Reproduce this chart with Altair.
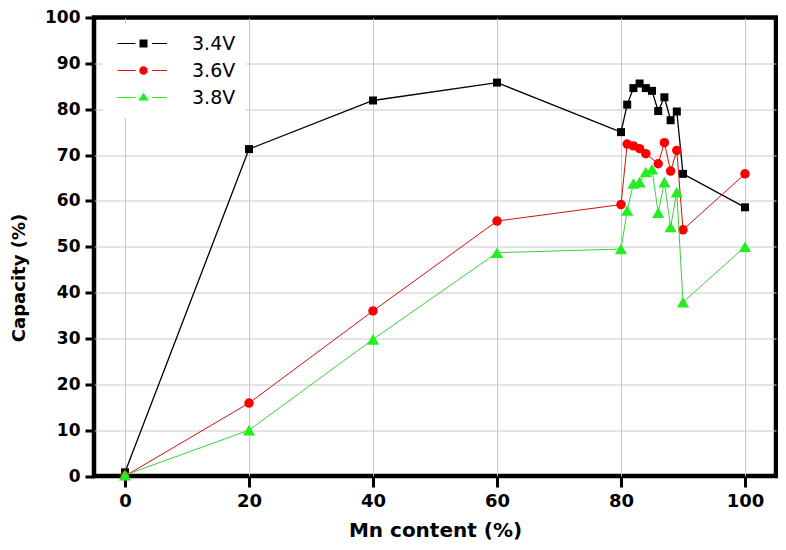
import altair as alt
import pandas as pd

# ---- data ----
series_names = ["3.4V", "3.6V", "3.8V"]

x_34 = [0, 20, 40, 60, 80, 81, 82, 83, 84, 85, 86, 87, 88, 89, 90, 100]
y_34 = [0.8, 71.3, 81.9, 85.8, 75.0, 81.0, 84.6, 85.6, 84.6, 84.0, 79.6, 82.6, 77.6, 79.5, 65.9, 58.6]

x_36 = [0, 20, 40, 60, 80, 81, 82, 83, 84, 86, 87, 88, 89, 90, 100]
y_36 = [0.0, 15.9, 36.0, 55.6, 59.2, 72.4, 72.0, 71.4, 70.3, 68.1, 72.7, 66.5, 71.0, 53.7, 65.9]

x_38 = [0, 20, 40, 60, 80, 81, 82, 83, 84, 85, 86, 87, 88, 89, 90, 100]
y_38 = [0.2, 10.0, 29.8, 48.7, 49.5, 57.9, 63.8, 64.1, 66.3, 66.9, 57.4, 64.1, 54.3, 61.9, 37.9, 50.0]

x_ticks = [0, 20, 40, 60, 80, 100]
y_ticks = [0, 10, 20, 30, 40, 50, 60, 70, 80, 90, 100]

marker_colors = ["#000000", "#ff0000", "#22ee22"]
line_colors = ["#000000", "#d01010", "#3ccf3c"]
marker_shapes = ["square", "circle", "triangle-up"]
marker_sizes = [64, 90, 150]
line_widths = [1.3, 1.0, 1.0]

# legend symbols: line - marker - line
legend_paths = [
    "M-1,-0.1H2.6V0.1H-1Z M3.4,-0.78H5V0.78H3.4Z M5.9,-0.1H8.9V0.1H5.9Z",
    "M-1,-0.1H2.6V0.1H-1Z M5.05,0A0.85,0.85 0 1,1 3.35,0A0.85,0.85 0 1,1 5.05,0Z M5.9,-0.1H8.9V0.1H5.9Z",
    "M-1,-0.1H2.6V0.1H-1Z M4.2,-0.95L5.3,0.6L3.1,0.6Z M5.9,-0.1H8.9V0.1H5.9Z",
]

rows = []
for name, xs, ys in zip(series_names, [x_34, x_36, x_38], [y_34, y_36, y_38]):
    for i, (xv, yv) in enumerate(zip(xs, ys)):
        rows.append({"series": name, "mn": xv, "cap": yv, "order": i})
df = pd.DataFrame(rows)

FONT = "DejaVu Sans"

x_enc = alt.X(
    "mn:Q",
    scale=alt.Scale(domain=[-5, 105], nice=False, zero=False),
    axis=alt.Axis(
        values=x_ticks, title="Mn content (%)", domain=False,
        tickColor="black", tickWidth=3, tickSize=11,
        labelFont=FONT, labelFontWeight="bold", labelFontSize=18, labelColor="black",
        labelPadding=5, labelFlush=False, labelOverlap=False,
        grid=True, gridColor="#c8c8c8", gridWidth=1,
        titleFont=FONT, titleFontWeight="bold", titleFontSize=20, titleColor="black",
        titleY=60, titleBaseline="alphabetic",
    ),
)
y_enc = alt.Y(
    "cap:Q",
    scale=alt.Scale(domain=[0, 100], nice=False),
    axis=alt.Axis(
        values=y_ticks, title="Capacity (%)", domain=False,
        tickColor="black", tickWidth=3, tickSize=9,
        labelFont=FONT, labelFontWeight="bold", labelFontSize=17, labelColor="black",
        labelPadding=5, labelFlush=False, labelOverlap=False,
        grid=True,
        gridColor={"condition": {"test": "datum.value == 0 || datum.value == 100", "value": "black"},
                   "value": "#c8c8c8"},
        gridWidth=1,
        titleFont=FONT, titleFontWeight="bold", titleFontSize=18, titleColor="black",
        titleAngle=-90, titleX=-75, titleY=260, titleBaseline="middle", titleAlign="center",
    ),
)

legend = alt.Legend(
    orient="none", legendX=9, legendY=6.5, title=None,
    fillColor="white", padding=10,
    symbolSize=100, symbolStrokeWidth=0, symbolOpacity=1,
    labelFont=FONT, labelFontSize=19, labelColor="black",
    labelOffset=60, rowPadding=7,
)

legend_layer = alt.Chart(df).mark_point(filled=True, opacity=0, size=100).encode(
    x=x_enc, y=y_enc,
    color=alt.Color("series:N", scale=alt.Scale(domain=series_names, range=marker_colors), legend=legend),
    shape=alt.Shape("series:N", scale=alt.Scale(domain=series_names, range=legend_paths), legend=legend),
)

layers = [legend_layer]
for name, mc, lc, shp, sz, lw in zip(series_names, marker_colors, line_colors, marker_shapes, marker_sizes, line_widths):
    base = alt.Chart(df).transform_filter(alt.datum.series == name)
    line = base.mark_line(color=lc, strokeWidth=lw).encode(x=x_enc, y=y_enc, order="order:Q")
    pts = base.mark_point(filled=True, shape=shp, size=sz, color=mc, opacity=1).encode(x=x_enc, y=y_enc)
    layers += [line, pts]

chart = alt.layer(*layers).properties(
    width=682, height=458.5,
    background="white",
    autosize=alt.AutoSizeParams(type="none"),
    padding={"left": 86, "top": 9.5, "right": 2, "bottom": 66},
).configure_view(stroke="black", strokeWidth=4.5)

chart.save("out.html", embed_options={"renderer": "svg", "actions": False})
